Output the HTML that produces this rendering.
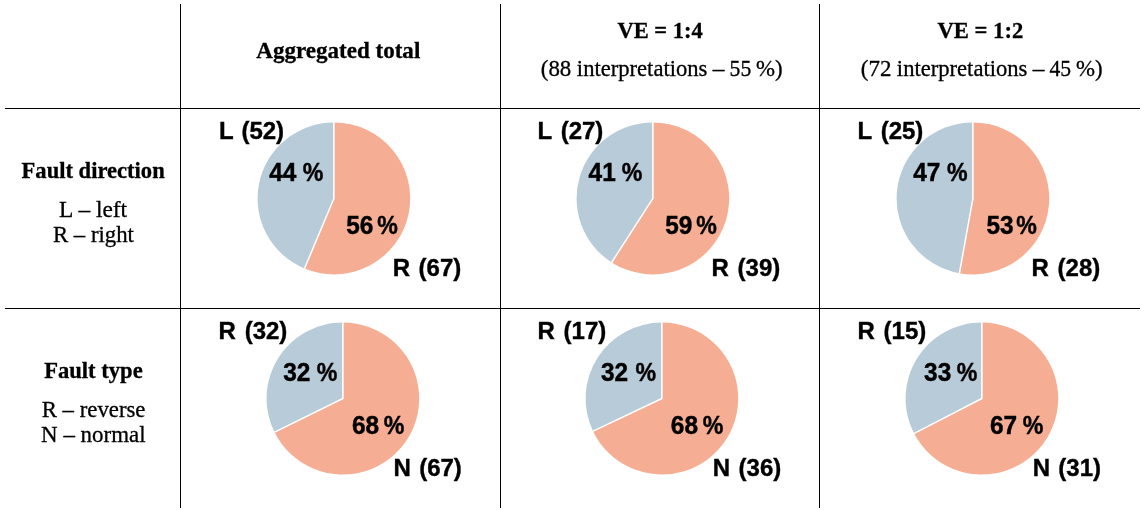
<!DOCTYPE html>
<html lang="en"><head><meta charset="utf-8"><title>Fault interpretation summary</title>
<style>
html,body{margin:0;padding:0;background:#fff;}
#fig{position:relative;width:1144px;height:510px;overflow:hidden;background:#fff;color:#000;}
.t{position:absolute;left:0;top:0;white-space:nowrap;line-height:1;transform-origin:0 0;margin:0;padding:0;filter:grayscale(1);}
.sb{font-family:'Liberation Serif', serif;font-weight:bold;font-size:22.1px;-webkit-text-stroke:0.3px #000;}
.sr{font-family:'Liberation Serif', serif;font-weight:normal;font-size:22.2px;-webkit-text-stroke:0.3px #000;}
.pl{font-family:'Liberation Sans', sans-serif;font-weight:bold;font-size:24.0px;-webkit-text-stroke:0.4px #000;}
.pc{font-family:'Liberation Sans', sans-serif;font-weight:bold;font-size:25.3px;-webkit-text-stroke:0.45px #000;}
.ln{position:absolute;background:#000;}
svg{position:absolute;left:0;top:0;}
</style></head><body>
<div id="fig">
<div class="ln" style="left:5px;top:108.00px;width:1135px;height:1.0px"></div>
<div class="ln" style="left:5px;top:308.00px;width:1135px;height:1.0px"></div>
<div class="ln" style="left:180.00px;top:4px;width:1.0px;height:504px"></div>
<div class="ln" style="left:500.00px;top:4px;width:1.0px;height:504px"></div>
<div class="ln" style="left:819.00px;top:4px;width:1.0px;height:504px"></div>
<svg width="1144" height="510" viewBox="0 0 1144 510">
<path d="M333.90 198.45 L333.90 122.45 A76.3 76.0 0 1 1 304.47 268.57 Z" fill="#F5AE94"/>
<path d="M333.90 198.45 L304.47 268.57 A76.3 76.0 0 0 1 333.90 122.45 Z" fill="#B8CBD9"/>
<path d="M333.90 121.45 L333.90 198.45 L304.08 269.49" fill="none" stroke="#fff" stroke-width="1.5" stroke-linejoin="round"/>
<path d="M652.90 198.45 L652.90 122.45 A76.3 76.0 0 1 1 611.65 262.39 Z" fill="#F5AE94"/>
<path d="M652.90 198.45 L611.65 262.39 A76.3 76.0 0 0 1 652.90 122.45 Z" fill="#B8CBD9"/>
<path d="M652.90 121.45 L652.90 198.45 L611.11 263.23" fill="none" stroke="#fff" stroke-width="1.5" stroke-linejoin="round"/>
<path d="M972.90 198.45 L972.90 122.45 A76.3 76.0 0 1 1 959.40 273.25 Z" fill="#F5AE94"/>
<path d="M972.90 198.45 L959.40 273.25 A76.3 76.0 0 0 1 972.90 122.45 Z" fill="#B8CBD9"/>
<path d="M972.90 121.45 L972.90 198.45 L959.23 274.24" fill="none" stroke="#fff" stroke-width="1.5" stroke-linejoin="round"/>
<path d="M342.90 398.50 L342.90 322.50 A76.3 76.0 0 1 1 274.54 432.25 Z" fill="#F5AE94"/>
<path d="M342.90 398.50 L274.54 432.25 A76.3 76.0 0 0 1 342.90 322.50 Z" fill="#B8CBD9"/>
<path d="M342.90 321.50 L342.90 398.50 L273.64 432.69" fill="none" stroke="#fff" stroke-width="1.5" stroke-linejoin="round"/>
<path d="M661.90 398.50 L661.90 322.50 A76.3 76.0 0 1 1 593.02 431.18 Z" fill="#F5AE94"/>
<path d="M661.90 398.50 L593.02 431.18 A76.3 76.0 0 0 1 661.90 322.50 Z" fill="#B8CBD9"/>
<path d="M661.90 321.50 L661.90 398.50 L592.11 431.62" fill="none" stroke="#fff" stroke-width="1.5" stroke-linejoin="round"/>
<path d="M981.90 398.50 L981.90 322.50 A76.3 76.0 0 1 1 914.15 433.46 Z" fill="#F5AE94"/>
<path d="M981.90 398.50 L914.15 433.46 A76.3 76.0 0 0 1 981.90 322.50 Z" fill="#B8CBD9"/>
<path d="M981.90 321.50 L981.90 398.50 L913.27 433.93" fill="none" stroke="#fff" stroke-width="1.5" stroke-linejoin="round"/>
</svg>
<div class="t sb" style="transform:translate(256.31px,40px) scaleX(1.0426);">Aggregated total</div>
<div class="t sb" style="transform:translate(617.43px,20px) scaleX(1.0170);">VE = 1:4</div>
<div class="t sb" style="transform:translate(937.43px,20px) scaleX(1.0245);">VE = 1:2</div>
<div class="t sr" style="transform:translate(540.76px,58px) scaleX(1.0315);">(88</div>
<div class="t sr" style="transform:translate(576.85px,58px) scaleX(1.0183);">interpretations</div>
<div class="t sr" style="transform:translate(712.78px,58px) scaleX(1.0526);">–</div>
<div class="t sr" style="transform:translate(729.58px,58px) scaleX(0.9760);">55</div>
<div class="t sr" style="transform:translate(755.88px,58px) scaleX(1.0279);">%)</div>
<div class="t sr" style="transform:translate(860.86px,58px) scaleX(1.0347);">(72</div>
<div class="t sr" style="transform:translate(896.85px,58px) scaleX(1.0183);">interpretations</div>
<div class="t sr" style="transform:translate(1032.78px,58px) scaleX(1.0526);">–</div>
<div class="t sr" style="transform:translate(1049.54px,58px) scaleX(0.9731);">45</div>
<div class="t sr" style="transform:translate(1075.88px,58px) scaleX(1.0279);">%)</div>
<div class="t sb" style="transform:translate(21.58px,160px) scaleX(1.0214);">Fault direction</div>
<div class="t sr" style="transform:translate(59.10px,199px) scaleX(1.0547);">L – left</div>
<div class="t sr" style="transform:translate(52.95px,224px) scaleX(1.0265);">R – right</div>
<div class="t sb" style="transform:translate(44.14px,360px) scaleX(1.0225);">Fault type</div>
<div class="t sr" style="transform:translate(41.68px,399px) scaleX(1.0273);">R – reverse</div>
<div class="t sr" style="transform:translate(41.11px,424px) scaleX(1.0331);">N – normal</div>
<div class="t pl" style="transform:translate(218.88px,119px);word-spacing:1.63px;">L (52)</div>
<div class="t pl" style="transform:translate(392.84px,256px);word-spacing:1.71px;">R (67)</div>
<div class="t pl" style="transform:translate(537.48px,119px);word-spacing:2.31px;">L (27)</div>
<div class="t pl" style="transform:translate(711.48px,256px);word-spacing:2.07px;">R (39)</div>
<div class="t pl" style="transform:translate(857.48px,119px);word-spacing:2.31px;">L (25)</div>
<div class="t pl" style="transform:translate(1031.48px,256px);word-spacing:2.07px;">R (28)</div>
<div class="t pl" style="transform:translate(218.61px,319px);word-spacing:2.03px;">R (32)</div>
<div class="t pl" style="transform:translate(393.48px,456px);word-spacing:1.66px;">N (67)</div>
<div class="t pl" style="transform:translate(537.38px,319px);word-spacing:2.19px;">R (17)</div>
<div class="t pl" style="transform:translate(712.84px,456px);word-spacing:1.71px;">N (36)</div>
<div class="t pl" style="transform:translate(857.38px,319px);word-spacing:2.19px;">R (15)</div>
<div class="t pl" style="transform:translate(1032.84px,456px);word-spacing:1.51px;">N (31)</div>
<div class="t pc" style="transform:translate(269.29px,160px) scaleX(0.9650);">44</div>
<div class="t pc" style="transform:translate(302.63px,160px) scaleX(0.9150);">%</div>
<div class="t pc" style="transform:translate(346.28px,213px) scaleX(0.9650);">56</div>
<div class="t pc" style="transform:translate(377.36px,213px) scaleX(0.9150);">%</div>
<div class="t pc" style="transform:translate(588.60px,160px) scaleX(0.9650);">41</div>
<div class="t pc" style="transform:translate(621.63px,160px) scaleX(0.9150);">%</div>
<div class="t pc" style="transform:translate(665.28px,213px) scaleX(0.9650);">59</div>
<div class="t pc" style="transform:translate(696.16px,213px) scaleX(0.9150);">%</div>
<div class="t pc" style="transform:translate(913.29px,160px) scaleX(0.9650);">47</div>
<div class="t pc" style="transform:translate(946.92px,160px) scaleX(0.9150);">%</div>
<div class="t pc" style="transform:translate(986.40px,213px) scaleX(0.9650);">53</div>
<div class="t pc" style="transform:translate(1016.16px,213px) scaleX(0.9150);">%</div>
<div class="t pc" style="transform:translate(283.24px,360px) scaleX(0.9650);">32</div>
<div class="t pc" style="transform:translate(316.86px,360px) scaleX(0.9150);">%</div>
<div class="t pc" style="transform:translate(351.95px,413px) scaleX(0.9650);">68</div>
<div class="t pc" style="transform:translate(383.66px,413px) scaleX(0.9150);">%</div>
<div class="t pc" style="transform:translate(601.02px,360px) scaleX(0.9650);">32</div>
<div class="t pc" style="transform:translate(635.47px,360px) scaleX(0.9150);">%</div>
<div class="t pc" style="transform:translate(670.85px,413px) scaleX(0.9650);">68</div>
<div class="t pc" style="transform:translate(702.82px,413px) scaleX(0.9150);">%</div>
<div class="t pc" style="transform:translate(924.08px,360px) scaleX(0.9650);">33</div>
<div class="t pc" style="transform:translate(956.86px,360px) scaleX(0.9150);">%</div>
<div class="t pc" style="transform:translate(989.95px,413px) scaleX(0.9650);">67</div>
<div class="t pc" style="transform:translate(1022.82px,413px) scaleX(0.9150);">%</div>
</div>
</body></html>
